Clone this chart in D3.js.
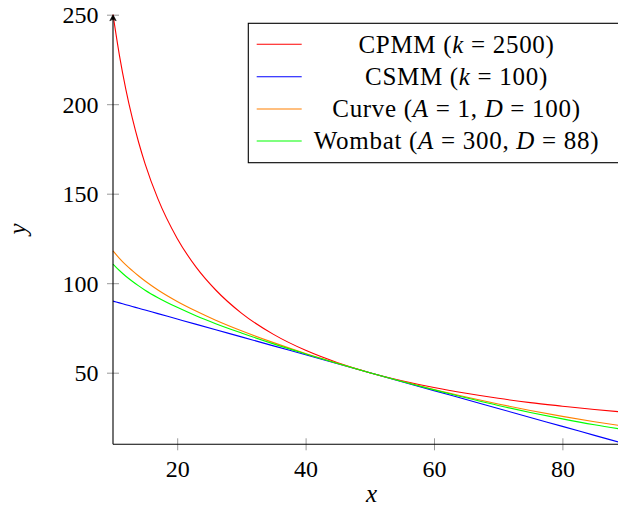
<!DOCTYPE html>
<html>
<head>
<meta charset="utf-8">
<script src="https://cdn.jsdelivr.net/npm/d3@7"></script>
<style>
  body { margin: 0; background: #fff; }
  svg { display: block; font-family: "Liberation Serif", "DejaVu Serif", serif; }
  .tick text { font-size: 24px; fill: #000; }
  .tick line { stroke: #999; }
  .domain { stroke: none; }
</style>
</head>
<body>
<div id="chart"></div>
<script>
// values
var xValues = [10, 11, 12, 13, 14, 15, 17, 20, 23, 26, 30, 35, 40, 45, 50, 55, 60, 65, 70, 75, 80, 85, 90];
var cpmm   = [250, 227.3, 208.3, 192.3, 178.6, 166.7, 147.1, 125, 108.7, 96.2, 83.3, 71.4, 62.5, 55.6, 50, 45.5, 41.7, 38.5, 35.7, 33.3, 31.3, 29.4, 27.8];
var csmm   = [90, 89, 88, 87, 86, 85, 83, 80, 77, 74, 70, 65, 60, 55, 50, 45, 40, 35, 30, 25, 20, 15, 10];
var curve  = [118.0, 113.9, 110.2, 107.0, 104.0, 101.2, 96.2, 89.8, 84.3, 79.3, 73.4, 66.8, 60.7, 55.2, 50, 45.2, 40.6, 36.4, 32.5, 28.9, 25.6, 22.6, 19.9];
var wombat = [110.7, 107.1, 103.9, 101.1, 98.5, 96.1, 91.9, 86.5, 81.7, 77.4, 72.2, 66.1, 60.5, 55.1, 50, 45.1, 40.4, 36.0, 31.7, 27.8, 24.2, 20.9, 18.0];

var xTicks = [20, 40, 60, 80];
var yTicks = [50, 100, 150, 200, 250];

var seriesNames = ["CPMM", "CSMM", "Curve", "Wombat"];
var seriesColors = ["#ff0000", "#0000ff", "#ff8000", "#00ff00"];
// legend labels: plain / italic pieces in turn
var legendParts = [
  ["CPMM (", "k", " = 2500)"],
  ["CSMM (", "k", " = 100)"],
  ["Curve (", "A", " = 1, ", "D", " = 100)"],
  ["Wombat (", "A", " = 300, ", "D", " = 88)"]
];

var chartWidth = 618, chartHeight = 508;
var plotLeft = 113, plotTop = 14.7, plotBottom = 444.3;

var xScale = d3.scaleLinear()
    .domain([10, 90])
    .range([plotLeft, plotLeft + 80 * 6.42]);

var yScale = d3.scaleLinear()
    .domain([10, 250])
    .range([plotBottom, plotTop]);

var svg = d3.select("#chart")
  .append("svg")
  .attr("width", chartWidth)
  .attr("height", chartHeight);

// axes with ticks crossing the axis line
var xAxis = svg.append("g")
    .attr("transform", "translate(0," + plotBottom + ")")
    .call(d3.axisBottom(xScale).tickValues(xTicks).tickSize(6).tickPadding(10))
    .attr("font-family", null).attr("font-size", null);
xAxis.selectAll(".tick line").attr("y1", -6).attr("y2", 6);
xAxis.selectAll(".tick text").attr("dy", "0.71em").attr("y", 15.5);

var yAxis = svg.append("g")
    .attr("transform", "translate(" + plotLeft + ",0)")
    .call(d3.axisLeft(yScale).tickValues(yTicks).tickSize(6).tickPadding(10))
    .attr("font-family", null).attr("font-size", null);
yAxis.selectAll(".tick line").attr("x1", -6).attr("x2", 6);
yAxis.selectAll(".tick text").attr("x", -14.5).attr("dy", "0.33em");

var line = d3.line()
    .x(function(d, i) { return xScale(xValues[i]); })
    .y(function(d) { return yScale(d); })
    .curve(d3.curveMonotoneX);

[cpmm, csmm, curve, wombat].forEach(function(series, i) {
  svg.append("path")
    .datum(series)
    .attr("class", "line " + seriesNames[i])
    .attr("fill", "none")
    .attr("stroke", seriesColors[i])
    .attr("stroke-width", 1.1)
    .attr("d", line);
});

// axis lines
svg.append("line")
  .attr("x1", plotLeft).attr("x2", chartWidth + 20)
  .attr("y1", plotBottom).attr("y2", plotBottom)
  .attr("stroke", "#000").attr("stroke-width", 1.1);
svg.append("line")
  .attr("x1", plotLeft).attr("x2", plotLeft)
  .attr("y1", plotBottom).attr("y2", plotTop + 2)
  .attr("stroke", "#000").attr("stroke-width", 1.1);
// arrow head at the top of the y axis
svg.append("path")
  .attr("d", "M" + (plotLeft - 3.2) + "," + (plotTop + 6) + " L" + plotLeft + "," + plotTop +
             " L" + (plotLeft + 3.2) + "," + (plotTop + 6) + " Q" + plotLeft + "," + (plotTop + 3.5) + " " + (plotLeft - 3.2) + "," + (plotTop + 6) + "Z")
  .attr("fill", "#000").attr("stroke", "#000").attr("stroke-width", 0.6);

// axis labels
svg.append("text")
  .attr("x", 371.5).attr("y", 502)
  .attr("text-anchor", "middle")
  .style("font-size", "25px").style("font-style", "italic")
  .text("x");
svg.append("text")
  .attr("transform", "translate(26,229) rotate(-90)")
  .attr("text-anchor", "middle")
  .style("font-size", "25px").style("font-style", "italic")
  .text("y");

// legend
var legend = svg.append("g");
legend.append("rect")
  .attr("x", 248.3).attr("y", 23.3)
  .attr("width", 400).attr("height", 139.4)
  .attr("fill", "#fff").attr("stroke", "#000").attr("stroke-width", 1.1);

var rowY = [44.3, 76.7, 109, 141];
legendParts.forEach(function(parts, i) {
  legend.append("line")
    .attr("x1", 256.7).attr("x2", 301.7)
    .attr("y1", rowY[i]).attr("y2", rowY[i])
    .attr("stroke", seriesColors[i]).attr("stroke-width", 1.1);
  var t = legend.append("text")
    .attr("x", 456.5).attr("y", rowY[i])
    .attr("dy", "0.33em")
    .attr("text-anchor", "middle")
    .style("font-size", "25px")
    .style("letter-spacing", "0.7px");
  parts.forEach(function(p, j) {
    t.append("tspan")
      .style("font-style", j % 2 === 1 ? "italic" : "normal")
      .text(p);
  });
});
</script>
</body>
</html>
